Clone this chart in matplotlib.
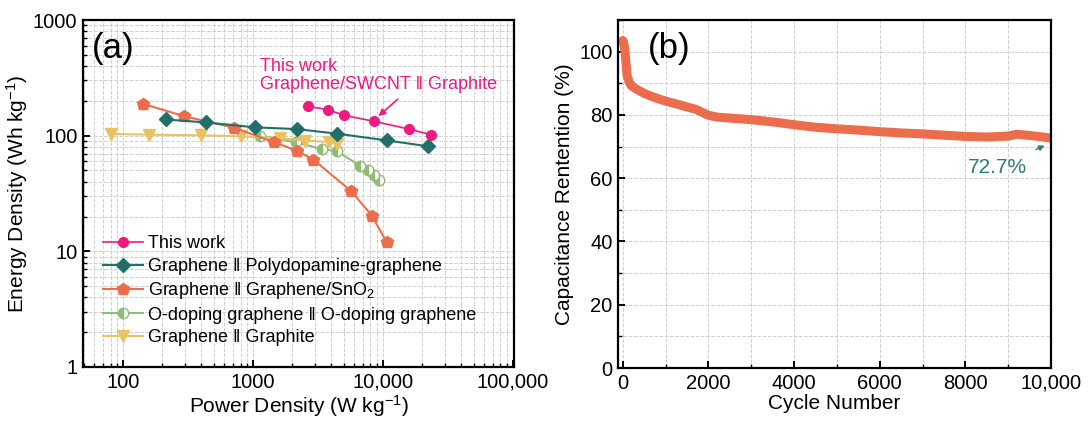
import matplotlib
matplotlib.use('Agg')
import matplotlib.pyplot as plt
from matplotlib.ticker import FixedLocator, FuncFormatter, MultipleLocator, LogLocator, NullFormatter

plt.rcParams['font.family'] = ['Liberation Sans', 'DejaVu Sans']
plt.rcParams['mathtext.default'] = 'regular'
plt.rcParams['font.size'] = 13

# ---- panel (a): Ragone data ----
this_work_p = [2660, 3750, 5010, 8530, 15850, 23400]
this_work_e = [179, 168, 150, 133, 114, 102]

pdg_p = [214, 435, 1040, 2170, 4450, 10670, 22080]
pdg_e = [138, 130, 118, 114, 104, 91, 81]

sno2_p = [143, 296, 718, 1458, 2190, 2910, 5680, 8190, 10670]
sno2_e = [188, 147, 117, 87.5, 74, 62, 33.2, 20.4, 12.0]

odop_p = [1130, 2140, 3380, 4450, 6650, 7630, 8530, 9370]
odop_e = [100, 87.5, 76.7, 73, 55, 50, 46, 41.6]

graphite_p = [80, 158, 396, 804, 1614, 2512, 3864, 4450]
graphite_e = [103.5, 102, 100.7, 98.6, 95.5, 90.5, 88.2, 85.3]

# ---- panel (b): cycling data ----
cycles = [0, 20, 40, 60, 80, 100, 150, 200, 300, 500, 700, 900, 1100, 1300, 1500,
          1700, 1800, 1900, 2000, 2200, 2500, 3000, 3500, 4000, 4500, 5000, 5500,
          6000, 6500, 7000, 7500, 8000, 8500, 9000, 9200, 9500, 10000]
retention = [103.5, 103, 101.5, 99, 96, 92.5, 90.5, 89.2, 88.3, 86.8, 85.7, 84.8, 84.0,
             83.3, 82.5, 81.8, 81.2, 80.5, 79.9, 79.3, 79.0, 78.5, 77.8, 76.9, 76.1,
             75.6, 75.2, 74.7, 74.3, 74.0, 73.6, 73.2, 73.0, 73.3, 73.9, 73.5, 72.7]

pink = '#ef1a80'
teal = '#226f69'
orange = '#ec6d4d'
green = '#8fbd78'
yellow = '#e9c262'
gridc = '#cfcfcf'

fig = plt.figure(figsize=(10.88, 4.21), dpi=100)
ax1 = fig.add_axes([83 / 1088, 54 / 421, 431 / 1088, 347 / 421])
ax2 = fig.add_axes([618 / 1088, 53 / 421, 433 / 1088, 348 / 421])

ax1.plot(this_work_p, this_work_e, '-', color=pink, lw=1.2, marker='o', ms=7,
         mfc=pink, mec=pink, label='This work', zorder=6)
ax1.plot(pdg_p, pdg_e, '-', color=teal, lw=1.5, marker='D', ms=7,
         mfc=teal, mec=teal, label='Graphene \u2016 Polydopamine-graphene', zorder=5)
ax1.plot(sno2_p, sno2_e, '-', color=orange, lw=1.5, marker='p', ms=9,
         mfc=orange, mec=orange, label='Graphene \u2016 Graphene/SnO$_2$', zorder=4)
ax1.plot(odop_p, odop_e, '-', color=green, lw=1.5, marker='o', ms=7.5,
         fillstyle='left', mfc=green, mfcalt='white', mec=green, mew=1,
         label='O-doping graphene \u2016 O-doping graphene', zorder=3)
ax1.plot(graphite_p, graphite_e, '-', color=yellow, lw=1.5, marker='v', ms=9,
         mfc=yellow, mec=yellow, label='Graphene \u2016 Graphite', zorder=3)

ax1.set_xscale('log')
ax1.set_yscale('log')
ax1.set_xlim(49, 1.02e5)
ax1.set_ylim(1, 1000)
ax1.xaxis.set_major_locator(FixedLocator([100, 1000, 10000, 100000]))
ax1.xaxis.set_major_formatter(FuncFormatter(lambda v, p: '{:,}'.format(int(round(v))) if v >= 10000 else str(int(round(v)))))
ax1.xaxis.set_minor_locator(LogLocator(base=10, subs=range(2, 10)))
ax1.xaxis.set_minor_formatter(NullFormatter())
ax1.yaxis.set_major_locator(FixedLocator([1, 10, 100, 1000]))
ax1.yaxis.set_major_formatter(FuncFormatter(lambda v, p: str(int(round(v)))))
ax1.yaxis.set_minor_locator(LogLocator(base=10, subs=range(2, 10)))
ax1.yaxis.set_minor_formatter(NullFormatter())
ax1.grid(True, which='both', color=gridc, ls='--', lw=0.7)
ax1.set_axisbelow(True)
ax1.set_xlabel('Power Density (W kg$^{-1}$)', fontsize=15, labelpad=1)
ax1.set_ylabel('Energy Density (Wh kg$^{-1}$)', fontsize=15, labelpad=2)
ax1.text(0.02, 0.965, '(a)', transform=ax1.transAxes, fontsize=25, va='top', ha='left')

ax1.text(1130, 470, 'This work\nGraphene/SWCNT \u2016 Graphite', color=pink,
         fontsize=13, ha='left', va='top', linespacing=1.05)
ax1.annotate('', xy=(8900, 142), xytext=(13500, 215),
             arrowprops=dict(arrowstyle='-|>', color=pink, lw=1.2, mutation_scale=10))

leg = ax1.legend(loc='upper left', bbox_to_anchor=(0.03, 0.40), frameon=False,
                 fontsize=13, handlelength=2.2, labelspacing=0.3, borderaxespad=0,
                 handletextpad=0.3)

# panel (b)
ax2.plot(cycles, retention, '-', color=orange, lw=6.5, solid_capstyle='round',
         solid_joinstyle='round')
ax2.set_xlim(-110, 10000)
ax2.set_ylim(0, 110)
ax2.xaxis.set_major_locator(MultipleLocator(2000))
ax2.xaxis.set_minor_locator(MultipleLocator(1000))
ax2.xaxis.set_major_formatter(FuncFormatter(lambda v, p: '{:,}'.format(int(v)) if v >= 10000 else str(int(v))))
ax2.yaxis.set_major_locator(MultipleLocator(20))
ax2.yaxis.set_minor_locator(MultipleLocator(10))
ax2.grid(True, which='both', color=gridc, ls='--', lw=0.7)
ax2.set_axisbelow(True)
ax2.set_xlabel('Cycle Number', fontsize=15, labelpad=1)
ax2.set_ylabel('Capacitance Rentention (%)', fontsize=15, labelpad=4)
ax2.text(0.07, 0.965, '(b)', transform=ax2.transAxes, fontsize=25, va='top', ha='left')
ax2.annotate('72.7%', xy=(9850, 70.3), xytext=(8760, 63.5), color='#2b7b76',
             fontsize=15, ha='center', va='center',
             arrowprops=dict(arrowstyle='-|>', color='#2b7b76', lw=1, mutation_scale=8,
                             shrinkA=9, shrinkB=0))

for ax in (ax1, ax2):
    for s in ax.spines.values():
        s.set_linewidth(1.6)
    ax.tick_params(which='major', direction='in', length=5, width=1.4, labelsize=14.5, pad=4)
    ax.tick_params(which='minor', direction='in', length=3, width=1.0)

fig.savefig('out.png', dpi=100)
